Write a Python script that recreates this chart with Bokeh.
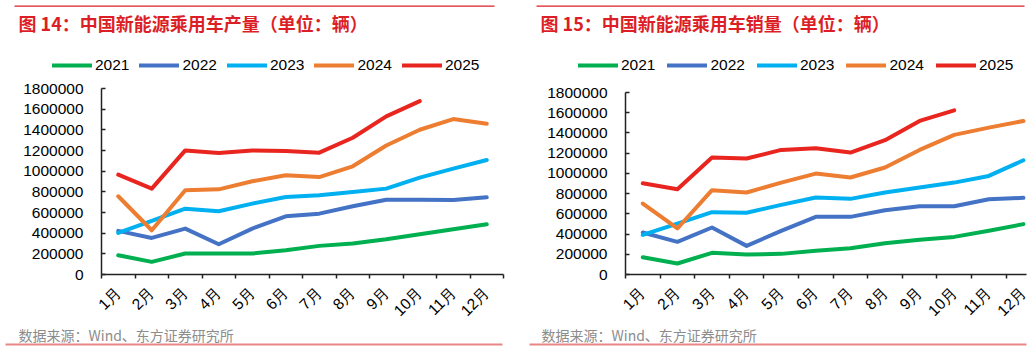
import math
from bokeh.plotting import figure
from bokeh.layouts import row
from bokeh.models import (Range1d, FixedTicker, BasicTickFormatter, Legend, LegendItem,
                          Label, BoxAnnotation)
from bokeh.embed import file_html
from bokeh.resources import INLINE

months = ["1月", "2月", "3月", "4月", "5月", "6月", "7月", "8月", "9月", "10月", "11月", "12月"]
years = ["2021", "2022", "2023", "2024", "2025"]
y_ticks = [0, 200000, 400000, 600000, 800000, 1000000, 1200000, 1400000, 1600000, 1800000]

prod_2021 = [187000, 122000, 203000, 203000, 203000, 235000, 277000, 300000, 341000, 390000, 438000, 486000]
prod_2022 = [422000, 354000, 444000, 293000, 444000, 563000, 589000, 660000, 724000, 724000, 721000, 747000]
prod_2023 = [402000, 518000, 637000, 612000, 686000, 750000, 766000, 798000, 831000, 937000, 1024000, 1108000]
prod_2024 = [757000, 428000, 815000, 824000, 902000, 960000, 943000, 1047000, 1249000, 1401000, 1504000, 1459000]
prod_2025 = [966000, 831000, 1201000, 1175000, 1201000, 1195000, 1179000, 1323000, 1530000, 1678000]

sales_2021 = [171000, 109000, 214000, 198000, 204000, 234000, 260000, 310000, 343000, 372000, 432000, 498000]
sales_2022 = [415000, 323000, 465000, 283000, 432000, 570000, 570000, 636000, 675000, 675000, 745000, 758000]
sales_2023 = [392000, 504000, 616000, 610000, 689000, 761000, 748000, 811000, 860000, 909000, 975000, 1130000]
sales_2024 = [702000, 455000, 834000, 811000, 909000, 998000, 959000, 1058000, 1232000, 1381000, 1453000, 1519000]
sales_2025 = [903000, 844000, 1157000, 1147000, 1232000, 1249000, 1206000, 1328000, 1519000, 1624000]

title_left = "图 14：中国新能源乘用车产量（单位：辆）"
title_right = "图 15：中国新能源乘用车销量（单位：辆）"
source_text = "数据来源：Wind、东方证券研究所"

colors = ["#00B050", "#4472C4", "#00B0F0", "#ED7D31", "#E8251E"]
RED = "#DC1F26"
TICK_FONT = "Liberation Sans"
CJK = "Noto Sans CJK SC"
W, H = 516, 350


def make_panel(series, title, ax_left, cat_px, ax_right_val, y_top_px, y_zero_px,
               legend_x, legend_spacing, title_x, src_x, top_line, bottom_line):
    # pixel layout -> ranges spanning the whole canvas (frame == canvas)
    x0 = -0.5 - ax_left / cat_px
    x1 = -0.5 + (W - ax_left) / cat_px
    y_max = y_ticks[-1]
    k = y_max / (y_zero_px - y_top_px)
    y1 = y_max + y_top_px * k
    y0 = -(H - y_zero_px) * k

    p = figure(width=W, height=H, output_backend="svg", toolbar_location=None,
               x_range=Range1d(x0, x1), y_range=Range1d(y0, y1),
               min_border_left=0, min_border_right=0, min_border_top=0, min_border_bottom=0)
    p.outline_line_color = None
    p.xgrid.grid_line_color = None
    p.ygrid.grid_line_color = None
    p.background_fill_color = "white"
    p.border_fill_color = "white"

    idx = list(range(len(months)))
    items = []
    for yr, vals, c in zip(years, series, colors):
        r = p.line(idx[:len(vals)], vals, line_color=c, line_width=4,
                   line_cap="round", line_join="round")
        items.append(LegendItem(label=yr, renderers=[r]))

    # x axis
    xa = p.xaxis[0]
    xa.fixed_location = 0
    xa.bounds = (-0.5, ax_right_val)
    xa.ticker = FixedTicker(ticks=idx, minor_ticks=[i - 0.5 for i in range(len(months) + 1)])
    xa.major_label_overrides = {i: m for i, m in enumerate(months)}
    xa.major_tick_in = 0
    xa.major_tick_out = 0
    xa.minor_tick_in = 0
    xa.minor_tick_out = 4
    xa.minor_tick_line_color = "#222222"
    xa.minor_tick_line_width = 1.5
    xa.axis_line_color = "#222222"
    xa.axis_line_width = 1.5
    xa.major_label_orientation = math.pi / 4
    xa.major_label_standoff = 11
    xa.major_label_text_font = TICK_FONT
    xa.major_label_text_font_size = "15.5px"
    xa.major_label_text_color = "#000000"

    # y axis
    ya = p.yaxis[0]
    ya.fixed_location = -0.5
    ya.bounds = (0, y_max)
    ya.ticker = FixedTicker(ticks=y_ticks)
    ya.formatter = BasicTickFormatter(use_scientific=False)
    ya.major_tick_in = 4
    ya.major_tick_out = 0
    ya.major_tick_line_color = "#222222"
    ya.major_tick_line_width = 1.5
    ya.minor_tick_line_color = None
    ya.axis_line_color = "#222222"
    ya.axis_line_width = 1.5
    ya.major_label_standoff = 18
    ya.major_label_text_font = TICK_FONT
    ya.major_label_text_font_size = "15.5px"
    ya.major_label_text_color = "#000000"

    legend = Legend(items=items, orientation="horizontal",
                    location=(legend_x, H - 75),
                    glyph_width=40, glyph_height=20, label_standoff=3,
                    spacing=legend_spacing, padding=0, margin=0,
                    border_line_color=None, background_fill_alpha=0,
                    label_text_font=TICK_FONT, label_text_font_size="15.5px",
                    label_text_color="#000000")
    p.add_layout(legend, "center")

    p.add_layout(Label(x=title_x, y=H - 22, x_units="screen", y_units="screen",
                       text=title, text_font=CJK, text_font_style="bold",
                       text_font_size="18px", text_color=RED, text_baseline="middle"))
    p.add_layout(Label(x=src_x, y=H - 334, x_units="screen", y_units="screen",
                       text=source_text, text_font=CJK, text_font_size="14px",
                       text_color="#8C8C8C", text_baseline="middle"))

    tl0, tl1 = top_line
    p.add_layout(BoxAnnotation(left=tl0, right=tl1, top=H - 5, bottom=H - 6.2,
                               left_units="screen", right_units="screen",
                               top_units="screen", bottom_units="screen",
                               fill_color=RED, fill_alpha=1, line_color=None))
    bl0, bl1 = bottom_line
    p.add_layout(BoxAnnotation(left=bl0, right=bl1, top=H - 343, bottom=H - 345,
                               left_units="screen", right_units="screen",
                               top_units="screen", bottom_units="screen",
                               fill_color="#E88585", fill_alpha=1, line_color=None))
    return p


p1 = make_panel([prod_2021, prod_2022, prod_2023, prod_2024, prod_2025], title_left,
                ax_left=101, cat_px=33.5, ax_right_val=11.5, y_top_px=88, y_zero_px=274,
                legend_x=52, legend_spacing=10, title_x=18, src_x=18,
                top_line=(14, 494), bottom_line=(5, 502))
p2 = make_panel([sales_2021, sales_2022, sales_2023, sales_2024, sales_2025], title_right,
                ax_left=109, cat_px=34.6, ax_right_val=11.09, y_top_px=92, y_zero_px=274,
                legend_x=62, legend_spacing=12, title_x=24, src_x=25,
                top_line=(20, 508), bottom_line=(13, 510))

layout = row(p1, p2, spacing=0)
open("out.html", "w").write(file_html(layout, INLINE))
